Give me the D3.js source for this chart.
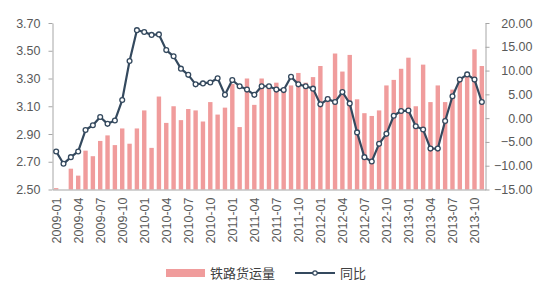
<!DOCTYPE html>
<html><head><meta charset="utf-8">
<script src="https://cdn.jsdelivr.net/npm/d3@7"></script>
<style>body{margin:0;background:#fff} svg{display:block}</style>
</head><body><svg id="c" width="550" height="300"></svg>
<script>
const months = [
"2009-01","2009-02","2009-03","2009-04","2009-05","2009-06","2009-07","2009-08","2009-09","2009-10","2009-11","2009-12",
"2010-01","2010-02","2010-03","2010-04","2010-05","2010-06","2010-07","2010-08","2010-09","2010-10","2010-11","2010-12",
"2011-01","2011-02","2011-03","2011-04","2011-05","2011-06","2011-07","2011-08","2011-09","2011-10","2011-11","2011-12",
"2012-01","2012-02","2012-03","2012-04","2012-05","2012-06","2012-07","2012-08","2012-09","2012-10","2012-11","2012-12",
"2013-01","2013-02","2013-03","2013-04","2013-05","2013-06","2013-07","2013-08","2013-09","2013-10","2013-11"];
const tickLabels = ["2009-01","2009-04","2009-07","2009-10","2010-01","2010-04","2010-07","2010-10","2011-01","2011-04","2011-07","2011-10","2012-01","2012-04","2012-07","2012-10","2013-01","2013-04","2013-07","2013-10"];
// 铁路货运量 (left axis)
const freight = [2.51,2.45,2.65,2.60,2.78,2.74,2.85,2.89,2.82,2.94,2.83,2.94,
3.07,2.80,3.17,2.98,3.10,3.00,3.08,3.07,2.99,3.13,3.04,3.09,
3.26,2.95,3.30,3.11,3.30,3.25,3.27,3.23,3.25,3.34,3.27,3.31,
3.39,3.17,3.48,3.35,3.47,3.15,3.05,3.03,3.07,3.25,3.29,3.37,
3.45,3.10,3.40,3.13,3.25,3.13,3.22,3.30,3.33,3.51,3.39];
// 同比 (right axis)
const yoy = [-7.0,-9.6,-8.2,-7.0,-2.5,-1.5,0.25,-1.2,-0.5,3.8,12.0,18.5,
18.1,17.5,17.6,14.3,13.0,10.4,9.1,7.1,7.3,7.5,8.4,4.9,
8.0,6.7,6.0,4.9,6.7,6.7,6.0,5.9,8.7,7.1,6.7,6.2,
2.9,4.0,3.4,5.5,3.1,-3.0,-8.2,-9.1,-5.4,-3.3,0.5,1.5,
1.6,-1.7,-2.4,-6.4,-6.4,-0.6,4.6,8.1,9.2,8.1,3.4];
const leftTicks = [2.50,2.70,2.90,3.10,3.30,3.50,3.70];
const rightTicks = [-15,-10,-5,0,5,10,15,20];

const svg = d3.select("#c");
const L = 52.5, R = 485.5, T = 23, B = 189.5;
const x = d3.scaleBand().domain(months).range([L, R]).padding(0);
const yL = d3.scaleLinear().domain([2.5, 3.7]).range([B, T]).clamp(true);
const yR = d3.scaleLinear().domain([-15, 20]).range([B, T]);
const barColor = "#f09c9c", lineColor = "#34495e", axisColor = "#a6a6a6", textColor = "#595959";
const font = "'Liberation Sans', Arial, sans-serif";

// bars
const bw = x.bandwidth() * 0.6;
svg.append("g").selectAll("rect").data(months).join("rect")
  .attr("x", (d) => x(d) + (x.bandwidth() - bw) / 2)
  .attr("y", (d, i) => yL(freight[i]))
  .attr("width", bw)
  .attr("height", (d, i) => B - yL(freight[i]))
  .attr("fill", barColor);

// left axis
const gL = svg.append("g").attr("transform", `translate(${L},0)`)
  .call(d3.axisLeft(yL).tickValues(leftTicks).tickFormat(d3.format(".2f")).tickSize(4).tickSizeOuter(0).tickPadding(8));
// right axis
const gR = svg.append("g").attr("transform", `translate(${R},0)`)
  .call(d3.axisRight(yR).tickValues(rightTicks).tickFormat(d3.format(".2f")).tickSize(4).tickSizeOuter(0));
gR.selectAll("text").attr("text-anchor", "end").attr("x", 47);
// bottom axis
const gB = svg.append("g").attr("transform", `translate(0,${B})`)
  .call(d3.axisBottom(x).tickValues(tickLabels).tickSize(0).tickSizeOuter(0));
gB.selectAll("text").attr("transform", "rotate(-90)").attr("text-anchor", "end")
  .attr("x", -8).attr("y", 0).attr("dy", "0.35em");

[gL, gR, gB].forEach(g => {
  g.selectAll("path, line").attr("stroke", axisColor);
  g.selectAll("text").attr("fill", textColor).style("font-family", font).style("font-size", "12.5px");
});

// line
const line = d3.line().x((d, i) => x(months[i]) + x.bandwidth() / 2).y(d => yR(d));
svg.append("path").datum(yoy).attr("d", line).attr("fill", "none")
  .attr("stroke", lineColor).attr("stroke-width", 2.2).attr("stroke-linejoin", "round");
svg.append("g").selectAll("circle").data(yoy).join("circle")
  .attr("cx", (d, i) => x(months[i]) + x.bandwidth() / 2).attr("cy", d => yR(d))
  .attr("r", 2.4).attr("fill", "#fff").attr("stroke", lineColor).attr("stroke-width", 1.3);

// legend
const lg = svg.append("g");
lg.append("rect").attr("x", 166).attr("y", 269).attr("width", 39).attr("height", 8).attr("fill", barColor);
lg.append("text").attr("x", 210).attr("y", 273).attr("dy", "0.35em").text("铁路货运量")
  .attr("fill", "#404040").style("font-family", "'Noto Sans CJK SC', sans-serif").style("font-size", "13px");
lg.append("line").attr("x1", 295).attr("x2", 335).attr("y1", 273).attr("y2", 273)
  .attr("stroke", lineColor).attr("stroke-width", 2);
lg.append("circle").attr("cx", 315).attr("cy", 273).attr("r", 2.2).attr("fill", "#fff")
  .attr("stroke", lineColor).attr("stroke-width", 1.2);
lg.append("text").attr("x", 340).attr("y", 273).attr("dy", "0.35em").text("同比")
  .attr("fill", "#404040").style("font-family", "'Noto Sans CJK SC', sans-serif").style("font-size", "13px");
</script></body></html>
